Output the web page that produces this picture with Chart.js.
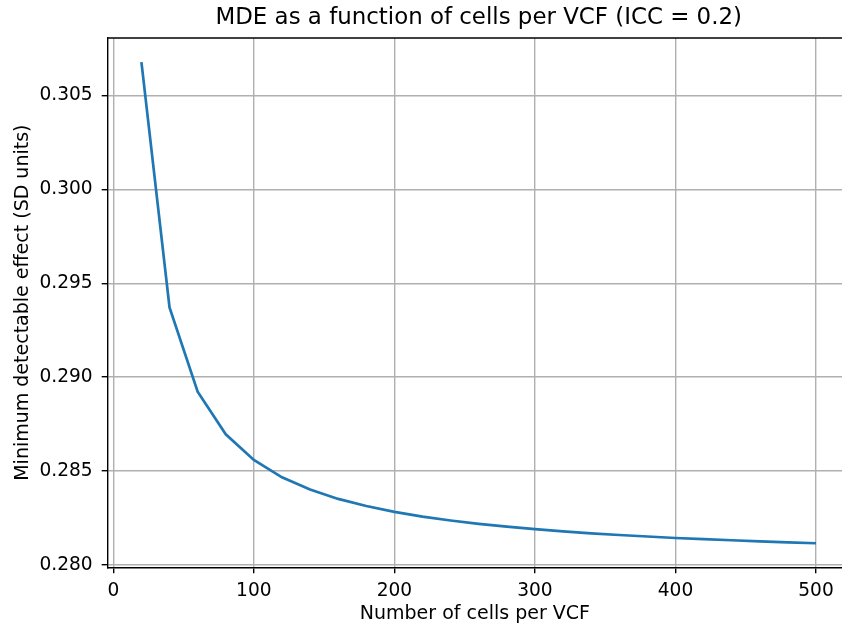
<!DOCTYPE html>
<html>
<head>
<meta charset="utf-8">
<script src="https://cdn.jsdelivr.net/npm/chart.js@4/dist/chart.umd.min.js"></script>
<style>
html, body { margin: 0; padding: 0; background: #fff; overflow: hidden; }
#wrap { width: 842px; height: 628px; }
</style>
</head>
<body>
<div id="wrap"><canvas id="c" width="842" height="628"></canvas></div>
<script>
const chartTitle = 'MDE as a function of cells per VCF (ICC = 0.2)';
const xLabel = 'Number of cells per VCF';
const yLabel = 'Minimum detectable effect (SD units)';
const cellsPerVCF = [20, 40, 60, 80, 100, 120, 140, 160, 180, 200, 220, 240, 260, 280, 300, 320, 340, 360, 380, 400, 420, 440, 460, 480, 500];
const mdeValues = [0.30677, 0.29371, 0.28923, 0.28696, 0.28559, 0.28467, 0.28402, 0.28352, 0.28314, 0.28283, 0.28258, 0.28237, 0.28219, 0.28204, 0.28191, 0.28179, 0.28169, 0.28160, 0.28152, 0.28144, 0.28138, 0.28132, 0.28126, 0.28121, 0.28116];

const points = cellsPerVCF.map((x, i) => ({ x: x, y: mdeValues[i] }));
const FONT = 'DejaVu Sans';

// Axes frame top spine + title centred over the (partly cropped) axes box
const frame = {
  id: 'frame',
  afterDatasetsDraw(chart) {
    const { ctx, chartArea } = chart;
    ctx.save();
    ctx.strokeStyle = '#000';
    ctx.lineWidth = 1.4;
    ctx.beginPath();
    ctx.moveTo(chartArea.left, chartArea.top);
    ctx.lineTo(chartArea.right + 2, chartArea.top);
    ctx.stroke();
    const xs = chart.scales.x;
    // full (uncropped) axes box would end at x = 524
    const fullRight = xs.getPixelForValue(524);
    ctx.fillStyle = '#000';
    ctx.font = '22.9px "' + FONT + '"';
    ctx.textAlign = 'center';
    ctx.textBaseline = 'middle';
    ctx.fillText(chartTitle, (chartArea.left + fullRight) / 2, 18.5);
    ctx.restore();
  }
};

new Chart(document.getElementById('c'), {
  type: 'line',
  data: {
    datasets: [{
      data: points,
      borderColor: '#1f77b4',
      borderWidth: 2.7,
      pointRadius: 0,
      tension: 0,
      fill: false
    }]
  },
  options: {
    responsive: false,
    animation: false,
    layout: { padding: { left: 0, right: 0, top: 38, bottom: 0 } },
    plugins: {
      legend: { display: false },
      tooltip: { enabled: false },
      title: { display: false }
    },
    scales: {
      x: {
        type: 'linear',
        min: -4,
        max: 518.5,
        afterFit(scale) { scale.height = 60.7; },
        ticks: {
          stepSize: 100,
          includeBounds: false,
          color: '#000',
          padding: 7,
          maxRotation: 0,
          font: { family: FONT, size: 18.6 }
        },
        grid: { color: '#b0b0b0', lineWidth: 1.4, tickLength: 6, tickColor: '#000', drawTicks: true },
        border: { display: true, color: '#000', width: 1.4 },
        title: {
          display: true,
          text: xLabel,
          color: '#000',
          font: { family: FONT, size: 19 },
          padding: { top: 0, bottom: 2.6 }
        }
      },
      y: {
        type: 'linear',
        min: 0.27988,
        max: 0.30805,
        afterFit(scale) { scale.width = 107.7; },
        ticks: {
          stepSize: 0.005,
          includeBounds: false,
          color: '#000',
          padding: 9,
          font: { family: FONT, size: 18.6 },
          callback: (v) => Number(v).toFixed(3)
        },
        grid: { color: '#b0b0b0', lineWidth: 1.4, tickLength: 6, tickColor: '#000', drawTicks: true },
        border: { display: true, color: '#000', width: 1.4 },
        title: {
          display: true,
          text: yLabel,
          color: '#000',
          font: { family: FONT, size: 19 },
          padding: { top: 12, bottom: 0 }
        }
      }
    }
  },
  plugins: [frame]
});
</script>
</body>
</html>
